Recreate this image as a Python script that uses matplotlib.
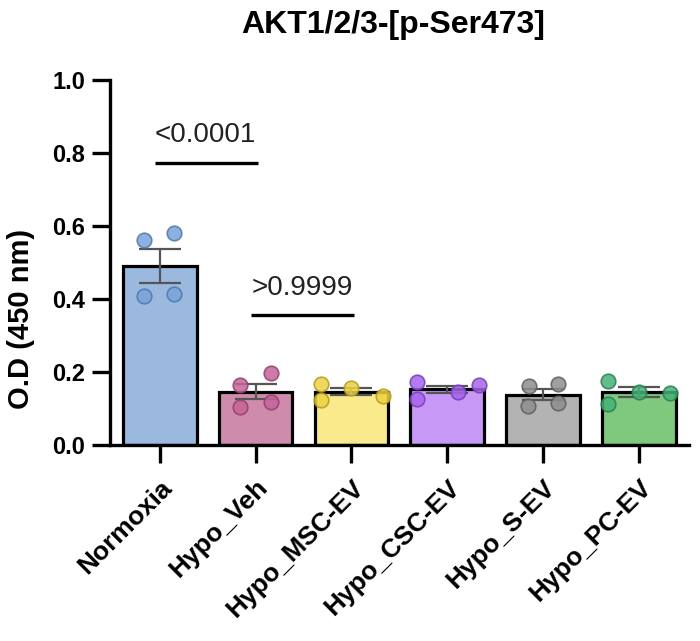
import matplotlib.pyplot as plt
import numpy as np

plt.rcParams['font.family'] = ['Liberation Sans', 'DejaVu Sans']

groups = ["Normoxia", "Hypo_Veh", "Hypo_MSC-EV", "Hypo_CSC-EV", "Hypo_S-EV", "Hypo_PC-EV"]

normoxia = [0.562, 0.581, 0.408, 0.413]
hypo_veh = [0.165, 0.196, 0.105, 0.118]
hypo_msc = [0.168, 0.157, 0.124, 0.135]
hypo_csc = [0.171, 0.146, 0.165, 0.127]
hypo_s = [0.160, 0.168, 0.107, 0.116]
hypo_pc = [0.176, 0.146, 0.143, 0.113]

p_labels = ["<0.0001", ">0.9999"]

# horizontal jitter of the dots inside each bar
jitter = [
    [-0.16, 0.15, -0.16, 0.15],
    [-0.16, 0.16, -0.16, 0.16],
    [-0.32, 0.0, -0.32, 0.33],
    [-0.32, 0.11, 0.33, -0.32],
    [-0.15, 0.16, -0.16, 0.16],
    [-0.32, 0.0, 0.32, -0.32],
]

bar_colors = ["#9bb8de", "#cf8bab", "#fbea8c", "#c898f7", "#b3b3b3", "#7fc97f"]
dot_colors = ["#7aa3d9", "#c5659a", "#ecd244", "#a664ea", "#8e8e8e", "#46b279"]
dot_edges = ["#4f78ad", "#93406c", "#b59a20", "#7440b8", "#5e5e5e", "#2a7f52"]

data = [normoxia, hypo_veh, hypo_msc, hypo_csc, hypo_s, hypo_pc]
x = np.arange(len(groups))
means = [np.mean(d) for d in data]
sems = [np.std(d, ddof=1) / np.sqrt(len(d)) for d in data]

fig = plt.figure(figsize=(7, 6.41), dpi=100)
ax = fig.add_axes([0.157, 0.306, 0.827, 0.569])

ax.bar(x, means, width=0.77, color=bar_colors, edgecolor="black", linewidth=2.3, zorder=2)
ax.errorbar(x, means, yerr=sems, fmt="none", ecolor="#555555", elinewidth=1.6,
            capsize=15, capthick=1.6, zorder=3)
for i, d in enumerate(data):
    ax.scatter(x[i] + np.array(jitter[i]), d, s=110, color=dot_colors[i],
               edgecolor=dot_edges[i], linewidth=1.2, alpha=0.85, zorder=4)

# significance brackets
ax.plot([-0.05, 1.02], [0.773, 0.773], color="black", lw=2.4, solid_capstyle="butt")
ax.text(0.48, 0.849, p_labels[0], ha="center", va="center", fontsize=20, color="#222222")
ax.plot([0.95, 2.03], [0.356, 0.356], color="black", lw=2.4, solid_capstyle="butt")
ax.text(1.49, 0.431, p_labels[1], ha="center", va="center", fontsize=20, color="#222222")

ax.set_xlim(-0.52, 5.52)
ax.set_ylim(0, 1.0)
ax.set_yticks([0.0, 0.2, 0.4, 0.6, 0.8, 1.0])
ax.set_yticklabels(["0.0", "0.2", "0.4", "0.6", "0.8", "1.0"], fontsize=17, fontweight="bold")
ax.set_xticks(x)
ax.set_xticklabels(groups, rotation=45, ha="right", rotation_mode="anchor",
                   fontsize=19, fontweight="bold")
ax.set_ylabel("O.D (450 nm)", fontsize=21, fontweight="bold")
ax.yaxis.set_label_coords(-0.13, 0.345)
ax.set_title("AKT1/2/3-[p-Ser473]", fontsize=23, fontweight="bold", pad=34, x=0.49)

for s in ["top", "right"]:
    ax.spines[s].set_visible(False)
for s in ["left", "bottom"]:
    ax.spines[s].set_linewidth(2.4)
ax.tick_params(axis="y", length=13, width=2.4, pad=5)
ax.tick_params(axis="x", length=13, width=2.4, pad=9)

fig.savefig("out.png", dpi=100)
